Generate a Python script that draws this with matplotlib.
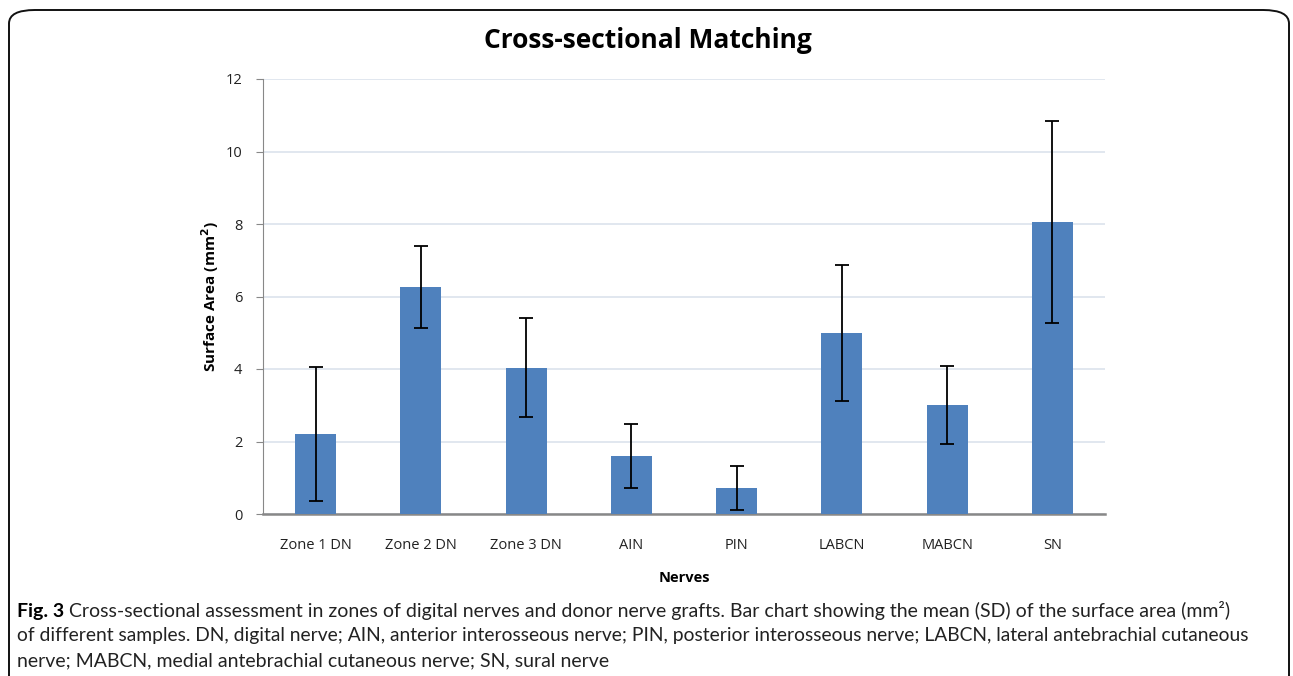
import matplotlib.pyplot as plt
import numpy as np
from matplotlib.patches import FancyBboxPatch

# nerve groups and mean (SD) surface area, mm^2
nerves = ['Zone 1 DN', 'Zone 2 DN', 'Zone 3 DN', 'AIN', 'PIN', 'LABCN', 'MABCN', 'SN']
means = [2.2, 6.27, 4.04, 1.6, 0.72, 5.0, 3.0, 8.05]
sds = [1.85, 1.13, 1.36, 0.88, 0.6, 1.88, 1.07, 2.78]
yticks = [0, 2, 4, 6, 8, 10, 12]

caption_lines = [
    'Cross-sectional assessment in zones of digital nerves and donor nerve grafts. Bar chart showing the mean (SD) of the surface area (mm²)',
    'of different samples. DN, digital nerve; AIN, anterior interosseous nerve; PIN, posterior interosseous nerve; LABCN, lateral antebrachial cutaneous',
    'nerve; MABCN, medial antebrachial cutaneous nerve; SN, sural nerve',
]

plt.rcParams['font.family'] = ['Open Sans', 'DejaVu Sans']

fig = plt.figure(figsize=(12.93, 6.76), dpi=100)

# rounded frame round the figure
W, H = 1293, 676
frame = FancyBboxPatch((9 / W, -0.2), (1289 - 9) / W, 1.2 - 10 / H,
                       boxstyle='round,pad=0,rounding_size=0.02',
                       transform=fig.transFigure, fill=False,
                       edgecolor='#111111', linewidth=1.4)
fig.patches.append(frame)

ax = fig.add_axes([263 / W, 1 - 514 / H, (1105 - 263) / W, (514 - 79) / H])
x = np.arange(len(nerves))
ax.bar(x, means, width=0.39, color='#4f81bd', zorder=3)
ax.errorbar(x, means, yerr=sds, fmt='none', ecolor='black', elinewidth=1.3,
            capsize=5, capthick=1.3, zorder=4)

ax.set_xlim(-0.5, len(nerves) - 0.5)
ax.set_ylim(0, 12)
ax.set_yticks(yticks)
ax.set_xticks(x)
ax.set_xticklabels(nerves, fontsize=10.5, color='#222222')
ax.tick_params(axis='x', length=0, pad=17)
ax.tick_params(axis='y', length=5, color='#888888', labelsize=10.5,
               labelcolor='#222222', pad=10)
ax.grid(axis='y', color='#dce3ec', linewidth=1.2, zorder=0)
for side in ['top', 'right']:
    ax.spines[side].set_visible(False)
ax.spines['left'].set_color('#888888')
ax.spines['bottom'].set_color('#888888')
ax.spines['bottom'].set_linewidth(1.8)

ax.set_ylabel('Surface Area (mm$^{\\mathbf{2}}$)', fontsize=11, fontweight='bold', labelpad=3)
ax.set_xlabel('Nerves', fontsize=10.5, fontweight='bold', labelpad=13)

fig.text(648 / W, 1 - 40 / H, 'Cross-sectional Matching', fontsize=19,
         fontweight='bold', ha='center', va='center')

# caption
cap_font = ['Lato', 'DejaVu Sans']
fig_lbl = fig.text(17 / W, 1 - 611 / H, 'Fig. 3', fontsize=14, fontweight='bold',
                   va='center', ha='left', family=cap_font)
fig.canvas.draw()
bb = fig_lbl.get_window_extent()
fig.text((bb.x1 + 5) / W, 1 - 611 / H, caption_lines[0], fontsize=14, va='center',
         ha='left', color='#222222', family=cap_font)
fig.text(17 / W, 1 - 636 / H, caption_lines[1], fontsize=13.9, va='center', ha='left',
         color='#222222', family=cap_font)
fig.text(17 / W, 1 - 661 / H, caption_lines[2], fontsize=14, va='center', ha='left',
         color='#222222', family=cap_font)

plt.savefig('out.png', dpi=100)
